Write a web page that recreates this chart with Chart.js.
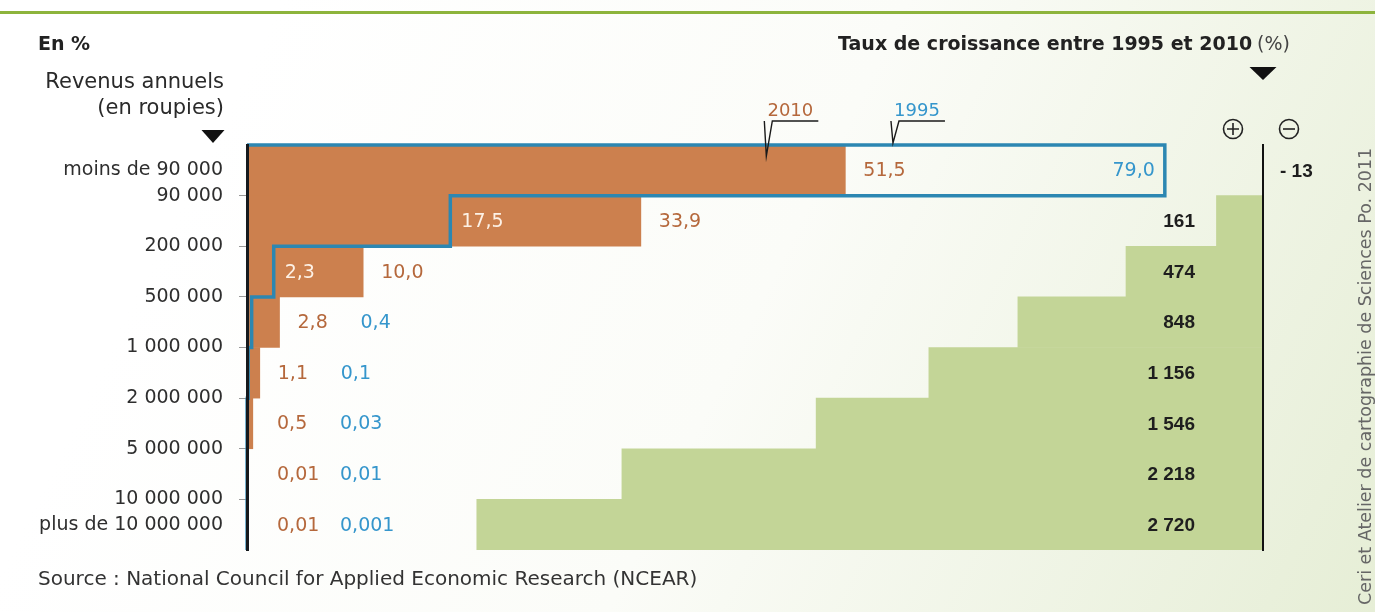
<!DOCTYPE html>
<html>
<head>
<meta charset="utf-8">
<script src="https://cdn.jsdelivr.net/npm/chart.js@4.4.0/dist/chart.umd.min.js"></script>
<style>
  html, body { margin: 0; padding: 0; background: #fff; }
  #wrap { width: 1375px; height: 612px; }
</style>
</head>
<body>
<div id="wrap"><canvas id="incomeChart" width="1375" height="612"></canvas></div>
<script>
// income brackets (rupees): boundaries between the rows, plus the two open ends
const incomeBounds = ['90 000', '200 000', '500 000', '1 000 000', '2 000 000', '5 000 000', '10 000 000'];
const lowestLabel = 'moins de 90 000';
const highestLabel = 'plus de 10 000 000';

// share of households per bracket (%)
const share2010 = [51.5, 33.9, 10.0, 2.8, 1.1, 0.5, 0.01, 0.01];
const share1995 = [79.0, 17.5, 2.3, 0.4, 0.1, 0.03, 0.01, 0.001];

// growth rate between 1995 and 2010 (%)
const growthRate = [-13, 161, 474, 848, 1156, 1546, 2218, 2720];

const rows = share2010.map((v, i) => i === 0 ? lowestLabel
    : i === share2010.length - 1 ? highestLabel
    : incomeBounds[i - 1] + ' - ' + incomeBounds[i]);

// tick positions on the helper axis: row centres for the two ends, row edges for the bounds
const tickValues = [0].concat(incomeBounds.map((b, i) => i + 0.5), [rows.length - 1]);
const tickLabels = [lowestLabel].concat(incomeBounds, [highestLabel]);

// stepped outline of the 1995 bars
const outline1995 = [{ x: 0, y: -0.5 }];
share1995.forEach((v, i) => {
    outline1995.push({ x: v, y: i - 0.5 }, { x: v, y: i + 0.5 });
});

const ORANGE = '#cc804e';
const BLUE_LINE = '#2c87b2';
const BLUE_TEXT = '#3596cc';
const BROWN_TEXT = '#b5683c';
const GREEN = '#c3d597';
const SANS = '"DejaVu Sans", sans-serif';

function fmtShare(v) {
    let s = String(v);
    if (s.indexOf('.') < 0) s = v.toFixed(1);
    return s.replace('.', ',');
}

function fmtGrowth(v) {
    const s = String(Math.abs(v)).replace(/\B(?=(\d{3})+(?!\d))/g, ' ');
    return v < 0 ? '- ' + s : s;
}

const backgroundPlugin = {
    id: 'paper',
    beforeDraw(chart) {
        const ctx = chart.ctx;
        const g = ctx.createLinearGradient(250, 60, 1375, 612);
        g.addColorStop(0, '#ffffff');
        g.addColorStop(0.45, '#fbfcf8');
        g.addColorStop(1, '#e6eed6');
        ctx.save();
        ctx.fillStyle = g;
        ctx.fillRect(0, 0, chart.width, chart.height);
        ctx.restore();
    }
};

const valueLabels = {
    id: 'valueLabels',
    afterDatasetsDraw(chart) {
        const ctx = chart.ctx;
        const x = chart.scales.x, x2 = chart.scales.x2, y = chart.scales.y;
        const x0 = x.getPixelForValue(0);
        ctx.save();
        ctx.textBaseline = 'middle';
        share2010.forEach((v, i) => {
            const py = y.getPixelForValue(i) + 1;
            const o = x.getPixelForValue(v);
            const b = x.getPixelForValue(share1995[i]);
            ctx.font = '19px ' + SANS;
            const lx = Math.max(o, x0 + 12) + 18;
            ctx.textAlign = 'left';
            ctx.fillStyle = BROWN_TEXT;
            ctx.fillText(fmtShare(v), lx, py);

            const t = fmtShare(share1995[i]);
            const w = ctx.measureText(t).width;
            if (b > o) {
                ctx.textAlign = 'right';
                ctx.fillStyle = BLUE_TEXT;
                ctx.fillText(t, b - 10, py);
            } else if (b + 11 + w < o) {
                ctx.fillStyle = '#fdf1e6';
                ctx.fillText(t, b + 11, py);
            } else {
                ctx.fillStyle = BLUE_TEXT;
                ctx.fillText(t, lx + 63, py);
            }

            // growth rate
            const g0 = x2.getPixelForValue(0);
            ctx.font = 'bold 19px "Liberation Sans", Arial, sans-serif';
            ctx.fillStyle = '#1e1e1e';
            if (growthRate[i] < 0) {
                ctx.textAlign = 'left';
                ctx.fillText(fmtGrowth(growthRate[i]), g0 + 17, py);
            } else {
                ctx.textAlign = 'right';
                ctx.fillText(fmtGrowth(growthRate[i]), g0 - 68, py);
            }
        });
        ctx.restore();
    }
};

function downTriangle(ctx, cx, top, w, h) {
    ctx.beginPath();
    ctx.moveTo(cx - w / 2, top);
    ctx.lineTo(cx + w / 2, top);
    ctx.lineTo(cx, top + h);
    ctx.closePath();
    ctx.fill();
}

function callout(ctx, text, color, tipX, tipY) {
    const lineY = 121;
    ctx.strokeStyle = '#1a1a1a';
    ctx.lineWidth = 1.4;
    ctx.beginPath();
    ctx.moveTo(tipX - 2, lineY);
    ctx.lineTo(tipX, tipY);
    ctx.lineTo(tipX + 6, lineY);
    ctx.lineTo(tipX + 52, lineY);
    ctx.stroke();
    ctx.fillStyle = color;
    ctx.font = '18px ' + SANS;
    ctx.textAlign = 'center';
    ctx.textBaseline = 'alphabetic';
    ctx.fillText(text, tipX + 24, lineY - 5);
}

const decorations = {
    id: 'decorations',
    afterDraw(chart) {
        const ctx = chart.ctx;
        const x = chart.scales.x;
        const area = chart.chartArea;
        ctx.save();

        // green rule under the (cropped) page title
        ctx.fillStyle = '#8db43c';
        ctx.fillRect(0, 11, chart.width, 3);

        ctx.fillStyle = '#222';
        ctx.textBaseline = 'middle';
        ctx.textAlign = 'left';
        ctx.font = 'bold 19px ' + SANS;
        ctx.fillText('En %', 38, 45);

        ctx.textAlign = 'right';
        ctx.font = '21px ' + SANS;
        ctx.fillStyle = '#2a2a2a';
        ctx.fillText('Revenus annuels', 224, 83);
        ctx.fillText('(en roupies)', 224, 109);
        ctx.fillStyle = '#111';
        downTriangle(ctx, 213, 130, 23, 13);

        // growth title
        ctx.font = '19px ' + SANS;
        ctx.fillStyle = '#444';
        ctx.fillText('(%)', 1290, 45);
        const pw = ctx.measureText('(%)').width;
        ctx.font = 'bold 19px ' + SANS;
        ctx.fillStyle = '#222';
        ctx.fillText('Taux de croissance entre 1995 et 2010', 1290 - pw - 5, 45);
        ctx.fillStyle = '#111';
        downTriangle(ctx, area.right, 67, 27, 13);

        // plus / minus signs
        ctx.strokeStyle = '#222';
        ctx.lineWidth = 1.6;
        [[1233, true], [1289, false]].forEach(([cx, plus]) => {
            ctx.beginPath();
            ctx.arc(cx, 129, 9.5, 0, Math.PI * 2);
            ctx.stroke();
            ctx.beginPath();
            ctx.moveTo(cx - 6, 129);
            ctx.lineTo(cx + 6, 129);
            if (plus) {
                ctx.moveTo(cx, 123);
                ctx.lineTo(cx, 135);
            }
            ctx.stroke();
        });

        // year callouts
        callout(ctx, '2010', BROWN_TEXT, x.getPixelForValue(44.7), 156);
        callout(ctx, '1995', BLUE_TEXT, x.getPixelForValue(55.6), 143);

        // source and credit
        ctx.textAlign = 'left';
        ctx.textBaseline = 'middle';
        ctx.fillStyle = '#333';
        ctx.font = '20px ' + SANS;
        ctx.fillText('Source : National Council for Applied Economic Research (NCEAR)', 38, 580);

        ctx.translate(1366, 605);
        ctx.rotate(-Math.PI / 2);
        ctx.font = '17.5px ' + SANS;
        ctx.fillStyle = '#666';
        ctx.textAlign = 'left';
        ctx.fillText('Ceri et Atelier de cartographie de Sciences Po. 2011', 0, 0);
        ctx.restore();
    }
};

const ctx = document.getElementById('incomeChart').getContext('2d');
const incomeChart = new Chart(ctx, {
    type: 'bar',
    data: {
        labels: rows,
        datasets: [
            {
                type: 'line',
                label: '1995',
                data: outline1995,
                xAxisID: 'x',
                yAxisID: 'yl',
                borderColor: BLUE_LINE,
                borderWidth: 3.5,
                pointRadius: 0,
                fill: false,
                tension: 0,
                clip: false,
                order: 0
            },
            {
                label: '2010',
                data: share2010,
                xAxisID: 'x',
                yAxisID: 'y',
                backgroundColor: ORANGE,
                order: 1
            },
            {
                label: 'Taux de croissance',
                data: growthRate,
                xAxisID: 'x2',
                yAxisID: 'y',
                backgroundColor: GREEN,
                clip: 0,
                order: 2
            }
        ]
    },
    options: {
        indexAxis: 'y',
        responsive: false,
        animation: false,
        layout: { padding: { top: 145, bottom: 62, left: 0, right: 0 } },
        datasets: {
            bar: { barPercentage: 1, categoryPercentage: 1, grouped: false, borderWidth: 0 }
        },
        plugins: {
            legend: { display: false },
            tooltip: { enabled: false }
        },
        scales: {
            x: { type: 'linear', display: false, min: 0, max: 87.45 },
            x2: { type: 'linear', display: false, min: 0, max: 3515, reverse: true },
            y: { type: 'category', display: false },
            yl: {
                type: 'linear',
                position: 'left',
                min: -0.5,
                max: 7.5,
                offset: false,
                reverse: true,
                afterBuildTicks: axis => { axis.ticks = tickValues.map(v => ({ value: v })); },
                afterFit: axis => { axis.width = 247; },
                ticks: {
                    autoSkip: false,
                    padding: 16,
                    color: '#2e2e2e',
                    font: { family: SANS, size: 19 },
                    callback: (v, i) => tickLabels[i]
                },
                grid: {
                    offset: false,
                    drawOnChartArea: false,
                    tickLength: 8,
                    tickWidth: 1,
                    tickColor: c => (c.tick && (c.tick.value === 0 || c.tick.value === rows.length - 1)) ? 'rgba(0,0,0,0)' : '#999'
                },
                border: { color: '#15191d', width: 3, z: 1 }
            },
            yr: {
                type: 'linear',
                position: 'right',
                offset: false,
                ticks: { display: false },
                grid: { display: false, offset: false },
                afterFit: axis => { axis.width = 112; },
                border: { color: '#111', width: 2, z: 1 }
            }
        }
    },
    plugins: [backgroundPlugin, valueLabels, decorations]
});
</script>
</body>
</html>
